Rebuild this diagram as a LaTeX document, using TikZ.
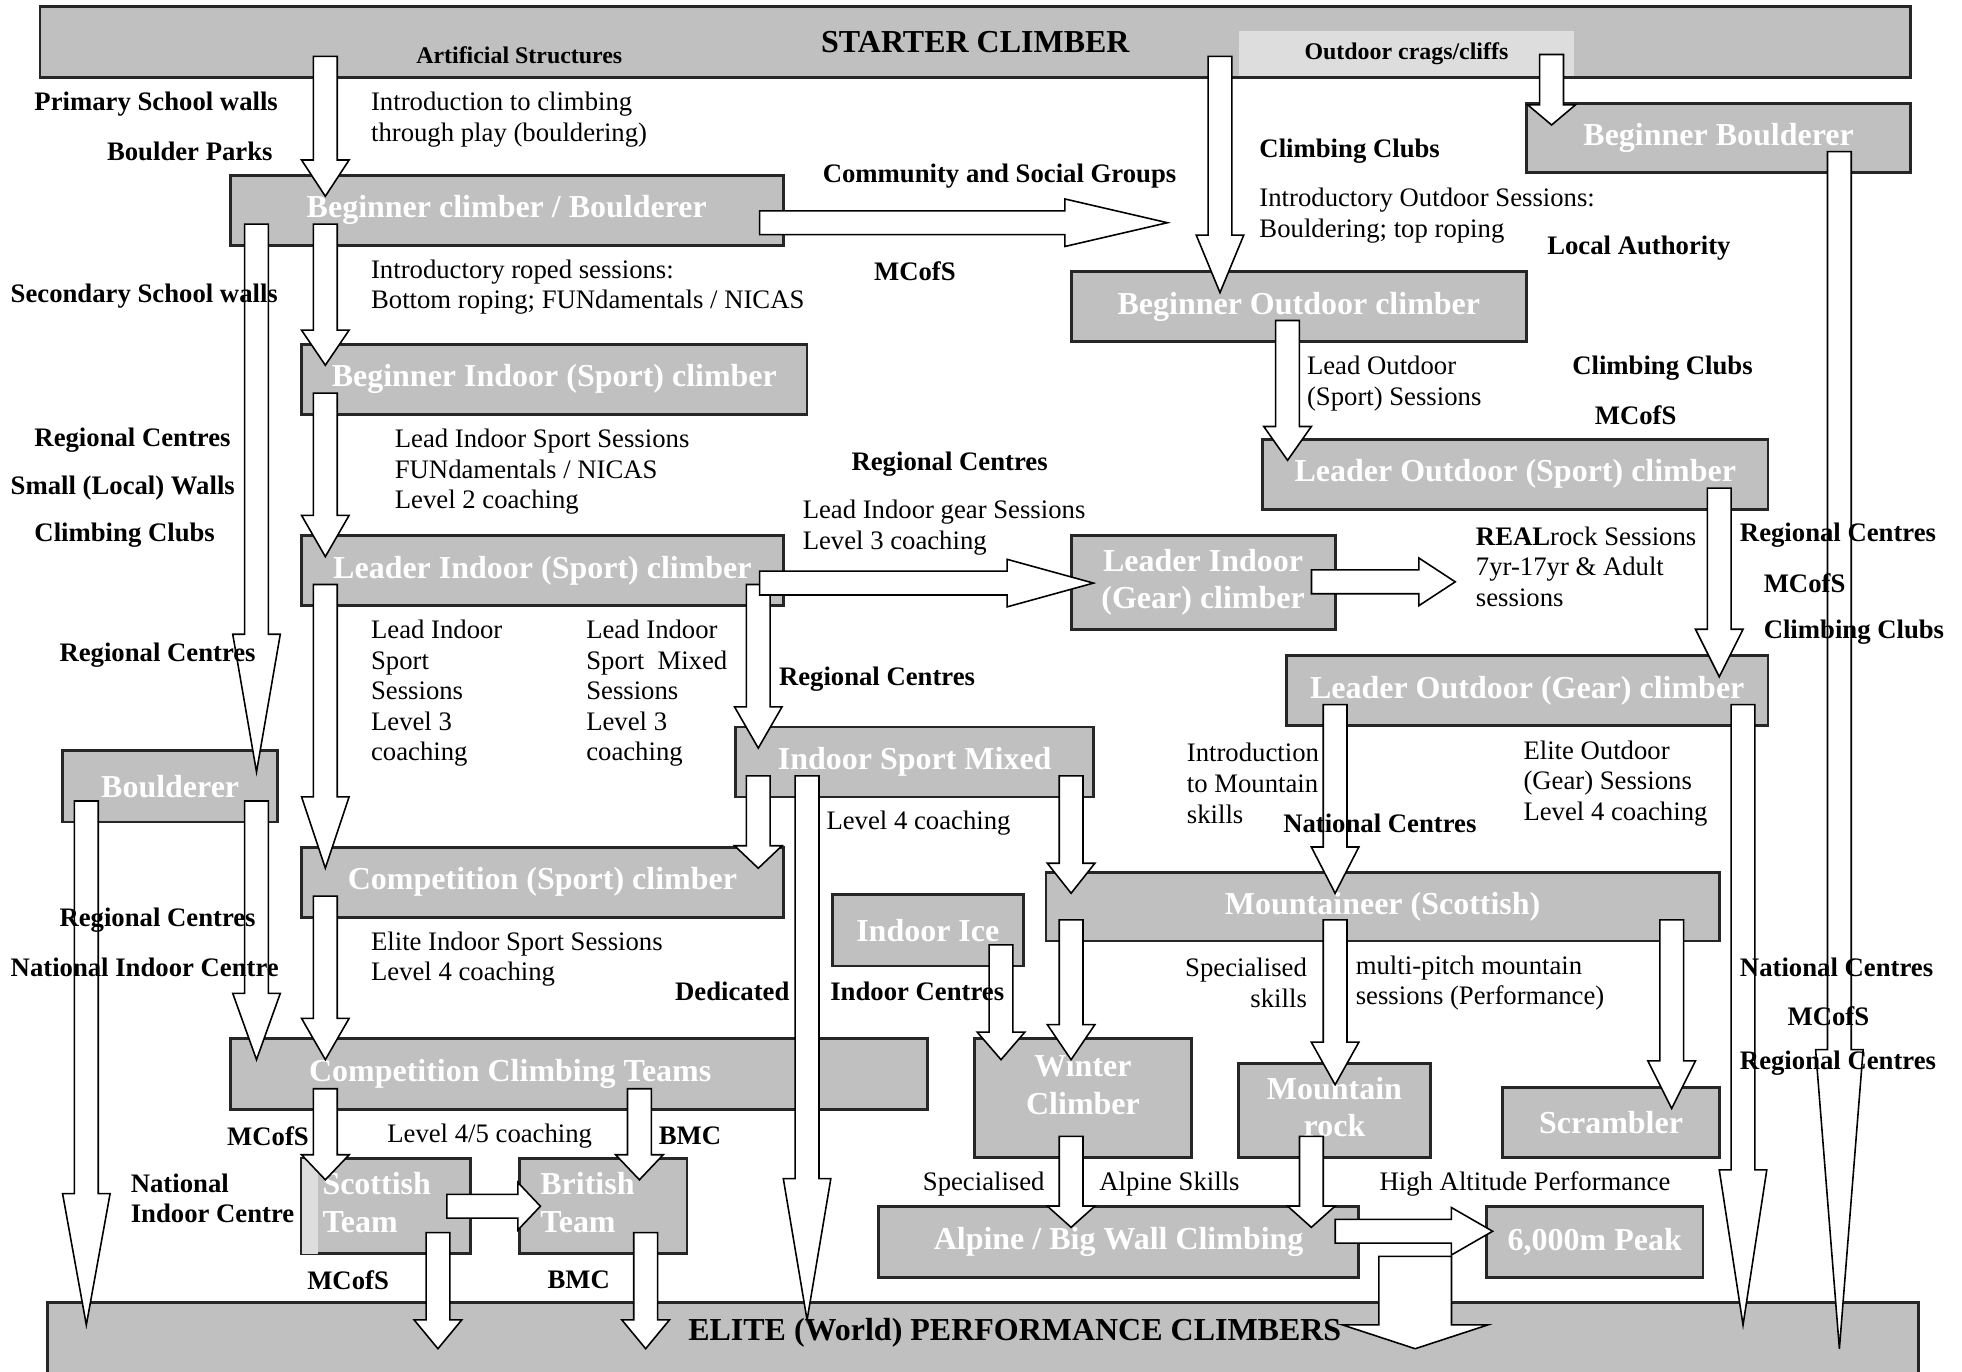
\documentclass[tikz,border=0pt]{standalone}
\usepackage{fontspec}
\setmainfont{Liberation Serif}
\usetikzlibrary{calc}
\definecolor{boxgray}{HTML}{C0C0C0}
\definecolor{craggray}{HTML}{DDDDDD}

\begin{document}
\begin{tikzpicture}[x=0.012513cm,y=-0.012513cm,
  stage/.style={draw=black!85,line width=0.8pt,fill=boxgray,inner sep=0pt,
    text=white,font=\fontsize{9.1}{10.7}\selectfont\bfseries},
  wh/.style 2 args={minimum width=#1*0.35598pt,minimum height=#2*0.35598pt},
  flow/.style={draw=black,line width=0.45pt,fill=white},
  note/.style={anchor=west,inner sep=0pt,align=left,
    font=\fontsize{7.6}{8.7}\selectfont},
  org/.style={note,font=\fontsize{7.6}{8.6}\selectfont\bfseries},
  tag/.style={inner sep=0pt,font=\fontsize{6.8}{8}\selectfont\bfseries}]
  \newcommand{\pxu}{0.35598pt} \newcommand{\shaftw}{9.5*\pxu}
  \newcommand{\headw}{19*\pxu}
  \newcommand{\boxlines}[2][c]{\begin{tabular}{@{}#1@{}}#2\end{tabular}}
  % block arrow down: [tip depth]{x}{from}{to}{head length}
  \newcommand{\dnarr}[5][18]{\draw[flow] let \p1=(#3), \p2=(#4), \p3=(#2,0) in
    (\x3-\shaftw,\y1+18*\pxu) -- (\x3+\shaftw,\y1+18*\pxu)
    -- (\x3+\shaftw,\y2-#1*\pxu+#5*\pxu) -- (\x3+\headw,\y2-#1*\pxu+#5*\pxu)
    -- (\x3,\y2-#1*\pxu) -- (\x3-\headw,\y2-#1*\pxu+#5*\pxu)
    -- (\x3-\shaftw,\y2-#1*\pxu+#5*\pxu) -- cycle ;}
  % block arrow right: [tip depth]{y}{from}{to}{head length}
  \newcommand{\rtarr}[5][19]{\draw[flow] let \p1=(#3), \p2=(#4), \p3=(0,#2) in
    (\x1-20*\pxu,\y3+\shaftw) -- (\x2+#1*\pxu-#5*\pxu,\y3+\shaftw)
    -- (\x2+#1*\pxu-#5*\pxu,\y3+\headw) -- (\x2+#1*\pxu,\y3)
    -- (\x2+#1*\pxu-#5*\pxu,\y3-\headw) -- (\x2+#1*\pxu-#5*\pxu,\y3-\shaftw)
    -- (\x1-20*\pxu,\y3-\shaftw) -- cycle ;}
  \useasboundingbox (0,0) rectangle (1568,1096) ; \clip (0,0) rectangle
  (1568,1096) ;
  % stages
  \node[stage,text=black,wh={1495}{57}] (starter) at (779.5,33.5) {STARTER CLIMBER} ;
  \node[tag,fill=craggray,wh={268}{36}] (crags) at (1124,43) {Outdoor crags/cliffs} ;
  \node[stage,wh={307}{55}] (begb) at (1373.5,110.5) {Beginner Boulderer} ;
  \node[stage,wh={442}{56}] (bcb) at (405,168) {Beginner climber / Boulderer} ;
  \node[stage,wh={364}{56}] (bocl) at (1038,245) {Beginner Outdoor climber} ;
  \node[stage,wh={404}{56}] (bis) at (443,303) {Beginner Indoor (Sport) climber} ;
  \node[stage,wh={404}{56}] (los) at (1211,379) {Leader Outdoor (Sport) climber} ;
  \node[stage,wh={385}{56}] (lis) at (433.5,456) {Leader Indoor (Sport) climber} ;
  \node[stage,wh={211}{75}] (lig) at (961.5,465.5) {\boxlines{Leader Indoor\\(Gear) climber}} ;
  \node[stage,wh={385}{56}] (log) at (1220.5,552) {Leader Outdoor (Gear) climber} ;
  \node[stage,wh={172}{57}] (bould) at (136,628.5) {Boulderer} ;
  \node[stage,wh={286}{56}] (ism) at (731,609) {Indoor Sport Mixed} ;
  \node[stage,wh={385}{56}] (csc) at (433.5,705) {Competition (Sport) climber} ;
  \node[stage,wh={153}{57}] (ice) at (741.5,743.5) {Indoor Ice} ;
  \node[stage,wh={538}{55}] (mts) at (1105,724.5) {Mountaineer (Scottish)} ;
  \node[stage,wh={557}{57}] (cct) at (462.5,858.5) {Competition Climbing Teams\hspace*{39pt}} ;
  \node[stage,wh={173}{95}] (winter) at (865.5,877.5)
    {\boxlines{Winter\\Climber\rule[-8.9pt]{0pt}{8.9pt}}} ;
  \node[stage,wh={153}{75}] (mrock) at (1066.5,887.5) {\boxlines{Mountain\\rock}} ;
  \node[stage,wh={173}{56}] (scram) at (1287.5,897) {Scrambler} ;
  \node[stage,wh={135}{76}] (scot) at (308.5,964) {\boxlines[l]{Scottish\\Team}\hspace*{5.3pt}} ;
  \fill[craggray] ([xshift=0.4pt,yshift=-0.4pt]scot.north west) rectangle
  ([xshift=14*\pxu,yshift=0.4pt]scot.south west) ;
  \node[stage,wh={134}{76}] (brit) at (482,964) {\boxlines[l]{British\\Team}\hspace*{8.9pt}} ;
  \node[stage,wh={384}{57}] (alp) at (894,992.5) {Alpine / Big Wall Climbing} ;
  \node[stage,wh={173}{57}] (peak) at (1274.5,992.5) {6,000m Peak} ;
  \node[stage,wh={1495}{69}] (elite) at (785.5,1075.5) {} ;
  \coordinate (outdoorend) at (933,178) ; \coordinate (realend) at (1163,465) ;
  % indoor route
  \dnarr{260}{starter.south}{bcb.north}{29}
  \dnarr{205}{bcb.south}{bould.north}{110}
  \dnarr{260}{bcb.south}{bis.north}{28}
  \rtarr[0]{178}{bcb.east}{outdoorend}{82}
  \dnarr{260}{bis.south}{lis.north}{33}
  \dnarr{260}{lis.south}{csc.north}{57}
  \dnarr{606}{lis.south}{ism.north}{33}
  \rtarr{466}{lis.east}{lig.west}{69}
  \rtarr[0]{465}{lig.east}{realend}{29}
  \dnarr{606}{ism.south}{csc.north}{18}
  \dnarr[15]{645}{ism.south}{elite.north}{113}
  \dnarr{856}{ism.south}{mts.north}{24}
  \dnarr[19]{69}{bould.south}{elite.north}{105}
  \dnarr{205}{bould.south}{cct.north}{53}
  \dnarr{260}{csc.south}{cct.north}{33}
  \dnarr{260}{cct.south}{scot.north}{20}
  \dnarr{511}{cct.south}{brit.north}{20}
  \rtarr[18]{964}{scot.east}{brit.west}{18}
  \dnarr[38]{350}{scot.south}{elite.north}{23}
  \dnarr[38]{516}{brit.south}{elite.north}{23}
  % outdoor route
  \dnarr{975}{starter.south}{bocl.north}{46}
  \dnarr{1240}{crags.south}{begb.north}{16}
  \dnarr{1029}{bocl.south}{los.north}{27}
  \dnarr{1374}{los.south}{log.north}{38}
  \dnarr[38]{1470}{begb.south}{elite.north}{239}
  \dnarr[19]{1393}{log.south}{elite.north}{124}
  \dnarr{1067}{log.south}{mts.north}{37}
  \dnarr{800}{ice.south}{winter.north}{22}
  \dnarr{856}{mts.south}{winter.north}{28}
  \dnarr{1067}{mts.south}{mrock.north}{34}
  \dnarr{1336}{mts.south}{scram.north}{38}
  \dnarr{856}{winter.south}{alp.north}{17}
  \dnarr{1048}{mrock.south}{alp.north}{17}
  \rtarr[6]{984}{alp.east}{peak.west}{33}
  \begin{scope}
    \renewcommand{\shaftw}{29*\pxu} \renewcommand{\headw}{58*\pxu}
    \dnarr[38]{1131}{alp.south}{elite.north}{19}
  \end{scope}
  \node[tag,font=\fontsize{9.1}{10}\selectfont\bfseries] (elitetitle) at
  (811,1065) {ELITE (World) PERFORMANCE CLIMBERS} ;
  % providers and sessions
  \node[tag] (artif) at (415,44) {Artificial Structures} ;
  \node[org] (primary) at (27,83) {Primary School walls} ;
  \node[org] (parks) at (85,121) {Boulder Parks} ;
  \node[note] (introplay) at (296,95.5) {Introduction to climbing\\through play (bouldering)} ;
  \node[org] (community) at (657,141) {Community and Social Groups} ;
  \node[org] (clubsa) at (1006,121) {Climbing Clubs} ;
  \node[note] (introout) at (1006,172.5) {Introductory Outdoor Sessions:\\Bouldering; top roping} ;
  \node[org] (localauth) at (1236,198) {Local Authority} ;
  \node[org] (mcofsa) at (698,217) {MCofS} ;
  \node[org] (secondary) at (8,237) {Secondary School walls} ;
  \node[note] (roped) at (296,229.5) {Introductory roped sessions:\\Bottom roping; FUNdamentals / NICAS} ;
  \node[note] (leadout) at (1044,306.5) {Lead Outdoor\\(Sport) Sessions} ;
  \node[org] (clubsb) at (1256,294) {Climbing Clubs} ;
  \node[org] (mcofsb) at (1274,332) {MCofS} ;
  \node[org] (regiona) at (27,352) {Regional Centres} ;
  \node[org] (smallwalls) at (8,390) {Small (Local) Walls} ;
  \node[org] (clubsc) at (27,428) {Climbing Clubs} ;
  \node[note] (leadsport) at (315,377) {Lead Indoor Sport Sessions\\FUNdamentals / NICAS\\Level 2 coaching} ;
  \node[org] (regionb) at (680,371) {Regional Centres} ;
  \node[note] (leadgear) at (641,421.5) {Lead Indoor gear Sessions\\Level 3 coaching} ;
  \node[note] (realrock) at (1179,453) {\textbf{REAL}rock Sessions\\7yr-17yr \& Adult\\sessions} ;
  \node[org] (regionc) at (1390,428) {Regional Centres} ;
  \node[org] (mcofsc) at (1409,466) {MCofS} ;
  \node[org] (clubsd) at (1409,505) {Climbing Clubs} ;
  \node[note] (lthree) at (296,554) {Lead Indoor\\Sport\\Sessions\\Level 3\\coaching} ;
  \node[note] (lthreemix) at (468,554) {Lead Indoor\\Sport~~Mixed\\Sessions\\Level 3\\coaching} ;
  \node[org] (regiond) at (47,524) {Regional Centres} ;
  \node[org] (regione) at (622,543) {Regional Centres} ;
  \node[note] (intromtn) at (948,626) {Introduction\\to Mountain\\skills} ;
  \node[note] (eliteout) at (1217,626) {Elite Outdoor\\(Gear) Sessions\\Level 4 coaching} ;
  \node[org] (nationala) at (1025,658) {National Centres} ;
  \node[note] (lfourmix) at (660,658) {Level 4 coaching} ;
  \node[org] (regionf) at (47,735) {Regional Centres} ;
  \node[org] (nica) at (8,773) {National Indoor Centre} ;
  \node[note] (eliteind) at (296,766.5) {Elite Indoor Sport Sessions\\Level 4 coaching} ;
  \node[org] (dedicated) at (539,792) {Dedicated} ;
  \node[org] (indoorc) at (663,792) {Indoor Centres} ;
  \node[note,anchor=east,align=right] (specskills) at (1045,785.5) {Specialised\\skills} ;
  \node[note] (multipitch) at (1083,785.5) {multi-pitch mountain\\sessions (Performance)} ;
  \node[org] (nationalb) at (1390,773) {National Centres} ;
  \node[org] (mcofsd) at (1428,812) {MCofS} ;
  \node[org] (regiong) at (1390,850) {Regional Centres} ;
  \node[org] (mcofse) at (181,908) {MCofS} ;
  \node[note] (lfourfive) at (309,908) {Level 4/5 coaching} ;
  \node[org] (bmca) at (526,908) {BMC} ;
  \node[org] (nicb) at (104,958) {National\\Indoor Centre} ;
  \node[org] (mcofsf) at (245,1023) {MCofS} ;
  \node[org] (bmcb) at (437,1023) {BMC} ;
  \node[note] (special) at (737,946) {Specialised} ;
  \node[note] (alpskills) at (878,946) {Alpine Skills} ;
  \node[note] (highalt) at (1102,946) {High Altitude Performance} ;
\end{tikzpicture}
\end{document}
